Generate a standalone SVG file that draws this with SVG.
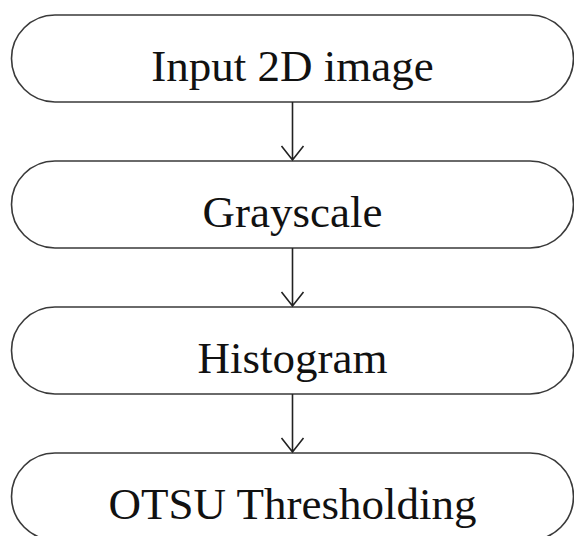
<svg xmlns="http://www.w3.org/2000/svg" width="574" height="536" viewBox="0 0 574 536">
<style>
.node{fill:#fff;stroke:#3a3a3a;stroke-width:1.6}
.lbl{font-family:"Liberation Serif","Times New Roman",serif;font-size:45px;fill:#111;text-anchor:middle}
.edge{fill:none;stroke:#222;stroke-width:1.6}
</style>
<rect width="574" height="536" fill="#fff"/>
<g id="n1"><rect class="node" x="11.5" y="15" width="562" height="87" rx="43.5" ry="43.5"/><text class="lbl" x="292.5" y="81">Input 2D image</text></g>
<g id="n2"><rect class="node" x="11.5" y="161" width="562" height="87" rx="43.5" ry="43.5"/><text class="lbl" x="292.5" y="227">Grayscale</text></g>
<g id="n3"><rect class="node" x="11.5" y="307" width="562" height="87" rx="43.5" ry="43.5"/><text class="lbl" x="292.5" y="373">Histogram</text></g>
<g id="n4"><rect class="node" x="11.5" y="453" width="562" height="87" rx="43.5" ry="43.5"/><text class="lbl" x="292.5" y="519">OTSU Thresholding</text></g>
<g id="edges">
<path class="edge" d="M292.5 102V160M281.5 146L292.5 160L303.5 146"/>
<path class="edge" d="M292.5 248V306M281.5 292L292.5 306L303.5 292"/>
<path class="edge" d="M292.5 394V452M281.5 438L292.5 452L303.5 438"/>
</g>
</svg>
